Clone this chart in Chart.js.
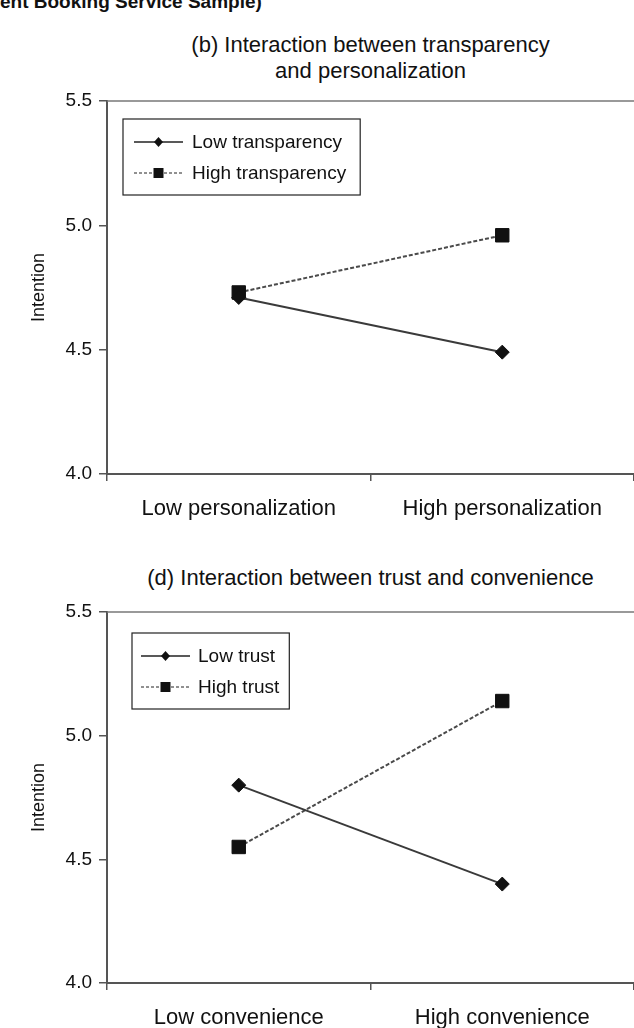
<!DOCTYPE html>
<html>
<head>
<meta charset="utf-8">
<script src="https://cdn.jsdelivr.net/npm/chart.js@4.4.1/dist/chart.umd.min.js"></script>
<style>
  body { margin:0; background:#fff; width:634px; height:1028px; overflow:hidden; position:relative;
         font-family:"Liberation Sans", Arial, sans-serif; color:#111; }
  .cv  { position:absolute; left:0; }
  .ttl { position:absolute; left:107px; width:527px; text-align:center; font-size:22px; line-height:26px; white-space:nowrap; }
  .hdr { position:absolute; left:0; top:-9px; font-weight:bold; font-size:19px; white-space:nowrap; }
</style>
</head>
<body>
<div class="hdr">ent Booking Service Sample)</div>
<div class="ttl" style="top:32px">(b) Interaction between transparency<br>and personalization</div>
<div class="cv" style="top:0;width:634px;height:540px"><canvas id="chart-b"></canvas></div>
<div class="ttl" style="top:565px">(d) Interaction between trust and convenience</div>
<div class="cv" style="top:540px;width:634px;height:488px"><canvas id="chart-d"></canvas></div>

<script>
// ---- data ----
const Y_TICKS      = [4.0, 4.5, 5.0, 5.5];

const CAT_B        = ['Low personalization', 'High personalization'];
const LOW_TRANSP   = [4.71, 4.49];
const HIGH_TRANSP  = [4.73, 4.96];

const CAT_D        = ['Low convenience', 'High convenience'];
const LOW_TRUST    = [4.80, 4.40];
const HIGH_TRUST   = [4.55, 5.14];

const FONT = '"Liberation Sans", Arial, sans-serif';
const AXIS = '#555';

function lowSeries (label, data) {
  return {
    label, data,
    borderColor: '#3a3a3a', borderWidth: 2,
    pointStyle: 'rectRot', pointRadius: 7,
    pointBackgroundColor: '#111', pointBorderColor: '#111', pointBorderWidth: 1
  };
}
function highSeries (label, data) {
  return {
    label, data,
    borderColor: '#4a4a4a', borderWidth: 2, borderDash: [4, 2],
    pointStyle: 'rect', pointRadius: 9.5,
    pointBackgroundColor: '#111', pointBorderColor: '#111', pointBorderWidth: 1
  };
}

/* legend box + top frame line, drawn on the canvas */
const boxLegend = {
  id: 'boxLegend',
  afterDraw (chart, args, opts) {
    const { ctx, chartArea: a } = chart;
    ctx.save();
    // frame line on top of plot
    ctx.strokeStyle = '#777'; ctx.lineWidth = 1.5;
    ctx.beginPath(); ctx.moveTo(a.left, a.top); ctx.lineTo(a.right, a.top); ctx.stroke();

    ctx.font = '19px ' + FONT;
    const sets = chart.data.datasets;
    const tw = Math.max(...sets.map(s => ctx.measureText(s.label).width));
    const x0 = a.left + opts.dx, y0 = a.top + opts.dy;
    const w = opts.padL + 49 + opts.gap + tw + opts.padR, h = 76;
    ctx.strokeStyle = '#222'; ctx.lineWidth = 1.2; ctx.setLineDash([]);
    ctx.strokeRect(x0, y0, w, h);

    sets.forEach((s, i) => {
      const cy = y0 + (i === 0 ? 23 : 54);
      const lx = x0 + opts.padL;
      ctx.strokeStyle = '#222';
      ctx.lineWidth = s.borderDash ? 1 : 1.5;
      ctx.setLineDash(s.borderDash ? [3, 2] : []);
      ctx.beginPath(); ctx.moveTo(lx, cy); ctx.lineTo(lx + 49, cy); ctx.stroke();
      ctx.setLineDash([]);
      ctx.fillStyle = '#111';
      const mx = lx + 24.5;
      ctx.beginPath();
      if (s.pointStyle === 'rect') {
        ctx.rect(mx - 5, cy - 5, 10, 10);
      } else {
        ctx.moveTo(mx, cy - 5); ctx.lineTo(mx + 4.5, cy); ctx.lineTo(mx, cy + 5); ctx.lineTo(mx - 4.5, cy);
        ctx.closePath();
      }
      ctx.fill();
      ctx.textBaseline = 'middle';
      ctx.fillText(s.label, lx + 49 + opts.gap, cy + 1);
    });
    ctx.restore();
  }
};

function createChart (canvasId, labels, datasets, padTop, xHeight, legendOpts) {
  new Chart(document.getElementById(canvasId), {
    type: 'line',
    data: { labels, datasets },
    options: {
      responsive: true,
      maintainAspectRatio: false,
      animation: false,
      layout: { autoPadding: false, padding: { top: padTop, left: 0, right: 0, bottom: 0 } },
      scales: {
        x: {
          offset: true,
          grid: { offset: true, drawOnChartArea: false, tickLength: 7, color: AXIS, lineWidth: 1.5 },
          border: { color: AXIS, width: 2 },
          ticks: { color: '#111', font: { family: FONT, size: 22 }, padding: 15 },
          afterFit: s => { s.height = xHeight; }
        },
        y: {
          min: 4.0, max: 5.5,
          afterBuildTicks: s => { s.ticks = Y_TICKS.map(v => ({ value: v })); },
          grid: { drawOnChartArea: false, tickLength: 8, color: AXIS, lineWidth: 1.5 },
          border: { color: AXIS, width: 2 },
          ticks: { color: '#111', font: { family: FONT, size: 19 }, padding: 7,
                   callback: v => Number(v).toFixed(1) },
          title: { display: true, text: 'Intention', color: '#111',
                   font: { family: FONT, size: 18 }, padding: { top: 28, bottom: 0 } },
          afterFit: s => { s.width = 107; }
        }
      },
      plugins: {
        legend: { display: false },
        tooltip: { enabled: false },
        boxLegend: legendOpts
      }
    },
    plugins: [boxLegend]
  });
}

createChart('chart-b', CAT_B,
  [lowSeries('Low transparency', LOW_TRANSP), highSeries('High transparency', HIGH_TRANSP)],
  101, 66, { dx: 16, dy: 18, padL: 11, gap: 9, padR: 14 });

createChart('chart-d', CAT_D,
  [lowSeries('Low trust', LOW_TRUST), highSeries('High trust', HIGH_TRUST)],
  72, 45, { dx: 25, dy: 21, padL: 9, gap: 8, padR: 10 });
</script>
</body>
</html>
